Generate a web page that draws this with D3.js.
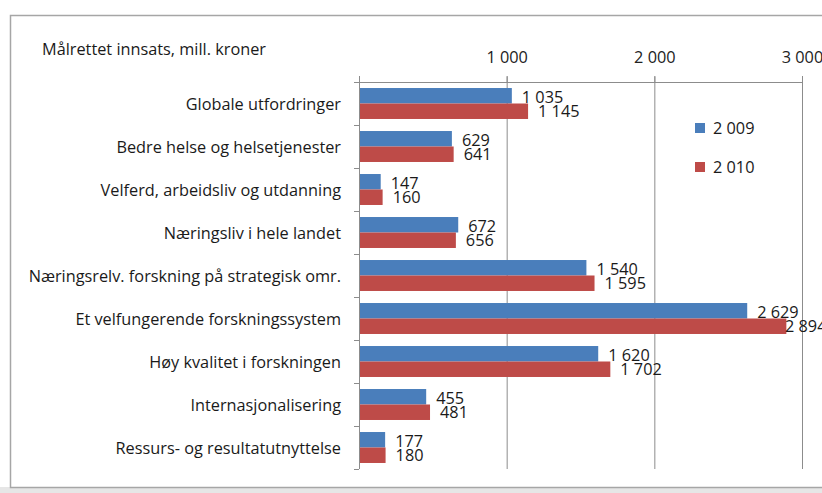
<!DOCTYPE html>
<html>
<head>
<meta charset="utf-8">
<script src="https://cdn.jsdelivr.net/npm/d3@7"></script>
<style>
  body { margin: 0; background: #fff; }
  svg { display: block; font-family: "Open Sans", sans-serif; }
</style>
</head>
<body>
<svg id="chart" width="822" height="493"></svg>
<script>
// categories, top to bottom
var categories = [
  "Globale utfordringer",
  "Bedre helse og helsetjenester",
  "Velferd, arbeidsliv og utdanning",
  "Næringsliv i hele landet",
  "Næringsrelv. forskning på strategisk omr.",
  "Et velfungerende forskningssystem",
  "Høy kvalitet i forskningen",
  "Internasjonalisering",
  "Ressurs- og resultatutnyttelse"
];
var seriesNames = ["2 009", "2 010"];
var values2009 = [1035, 629, 147, 672, 1540, 2629, 1620, 455, 177];
var values2010 = [1145, 641, 160, 656, 1595, 2894, 1702, 481, 180];
var tickValues = [1000, 2000, 3000];
var colors = ["#4a7ebb", "#be4b48"];

var W = 822, H = 493;
var margin = { top: 82, right: 20, bottom: 24, left: 359 };
var FS = 16.3;
var svg = d3.select("#chart");

// chart frame + bottom shadow
svg.append("rect").attr("x", 0).attr("y", H - 6).attr("width", W).attr("height", 6).attr("fill", "#e6e6e6");
svg.append("rect")
  .attr("x", 10.5).attr("y", 15.5).attr("width", W + 10).attr("height", 472)
  .attr("fill", "#fff").attr("stroke", "#a6a6a6").attr("stroke-width", 1.5);

var x = d3.scaleLinear().domain([0, 3000]).range([margin.left, margin.left + 443]);
var y = d3.scaleBand().domain(categories).range([margin.top, H - margin.bottom]).paddingInner(0.28).paddingOuter(0.14);
var ySub = d3.scaleBand().domain([0, 1]).range([0, y.bandwidth()]);

var fmt = function(v) { return d3.format(",")(v).replace(/,/g, " "); };

// gridlines
svg.append("g").selectAll("line").data(tickValues).join("line")
  .attr("x1", d => x(d) + 0.5).attr("x2", d => x(d) + 0.5)
  .attr("y1", margin.top - 6).attr("y2", H - margin.bottom)
  .attr("stroke", "#8c8c8c").attr("stroke-width", 1);

// top axis
var xAxis = svg.append("g").attr("transform", "translate(0," + (margin.top + 0.5) + ")")
  .call(d3.axisTop(x).tickValues(tickValues).tickFormat(fmt).tickSize(6).tickPadding(14));
xAxis.select(".domain").attr("stroke", "#8c8c8c").attr("d", "M" + (margin.left - 5) + ",0H" + (margin.left + 443));
xAxis.selectAll(".tick line").attr("stroke", "#8c8c8c");
xAxis.selectAll("text").attr("font-size", FS).attr("fill", "#222").attr("font-family", "Open Sans, sans-serif");

// left axis line with category boundary ticks
var step = y.step();
var boundaries = d3.range(categories.length + 1).map(i => margin.top + i * step);
svg.append("line").attr("x1", margin.left + 0.5).attr("x2", margin.left + 0.5)
  .attr("y1", margin.top - 6).attr("y2", H - margin.bottom).attr("stroke", "#8c8c8c");
svg.append("g").selectAll("line").data(boundaries).join("line")
  .attr("x1", margin.left - 5).attr("x2", margin.left)
  .attr("y1", d => Math.round(d) + 0.5).attr("y2", d => Math.round(d) + 0.5)
  .attr("stroke", "#8c8c8c");

// category labels
svg.append("g").selectAll("text").data(categories).join("text")
  .attr("x", margin.left - 18)
  .attr("y", d => y(d) + y.bandwidth() / 2 + 1)
  .attr("dy", "0.35em")
  .attr("text-anchor", "end")
  .attr("font-size", FS)
  .attr("fill", "#1a1a1a")
  .text(d => d);

// bars
var series = [values2009, values2010];
series.forEach(function(vals, s) {
  var g = svg.append("g");
  g.selectAll("rect").data(vals).join("rect")
    .attr("x", x(0) + 1)
    .attr("y", (d, i) => y(categories[i]) + ySub(s))
    .attr("width", d => x(d) - x(0) - 1)
    .attr("height", ySub.bandwidth())
    .attr("fill", colors[s]);
  g.selectAll("text").data(vals).join("text")
    .attr("x", d => Math.min(x(d) + 10, W - 37))
    .attr("y", (d, i) => y(categories[i]) + ySub(s) + ySub.bandwidth() / 2 + (s === 0 ? 2 : 0))
    .attr("dy", "0.35em")
    .attr("font-size", FS)
    .attr("fill", "#1a1a1a")
    .text(d => fmt(d));
});

// legend
var legend = svg.append("g").selectAll("g").data(seriesNames).join("g")
  .attr("transform", (d, i) => "translate(695," + (123 + i * 39) + ")");
legend.append("rect").attr("width", 10).attr("height", 10).attr("fill", (d, i) => colors[i]);
legend.append("text").attr("x", 18).attr("y", 5).attr("dy", "0.35em")
  .attr("font-size", FS).attr("fill", "#1a1a1a").text(d => d);

// title
svg.append("text").attr("x", 42).attr("y", 55)
  .attr("font-size", FS).attr("fill", "#1a1a1a")
  .text("Målrettet innsats, mill. kroner");
</script>
</body>
</html>
